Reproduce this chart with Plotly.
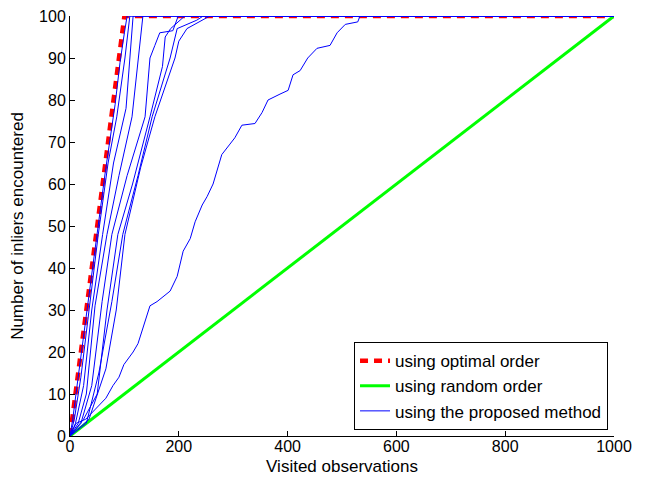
import plotly.graph_objects as go

# ---- data ----
optimal_x = [0, 100, 1000]
optimal_y = [0, 100, 100]

random_x = [0, 1000]
random_y = [0, 100]

proposed = [
    ([0, 5, 15, 30, 48, 65, 83, 92, 100, 105, 1000],
     [0, 4, 14, 29, 47, 63, 79, 89, 96, 100, 100]),
    ([0, 8, 20, 35, 52, 70, 86, 101, 110, 1000],
     [0, 4, 14, 30, 48, 65, 76, 90, 100, 100]),
    ([0, 10, 25, 40, 60, 80, 103, 110, 116, 1000],
     [0, 3, 12, 30, 48, 65, 78, 90, 100, 100]),
    ([0, 15, 30, 46, 68, 90, 114, 125, 134, 1000],
     [0, 3, 10, 31, 48, 62, 76, 90, 100, 100]),
    ([0, 20, 40, 59, 77, 105, 138, 147, 156, 165, 189, 197, 199, 1000],
     [0, 3, 12, 32, 48, 62, 76, 90, 93, 96, 96.5, 99.3, 100, 100]),
    ([0, 25, 50, 68, 88, 115, 147, 170, 175, 185, 211, 1000],
     [0, 4, 10, 30, 48, 60, 76, 88, 95, 97, 100, 100]),
    ([0, 30, 53, 77, 97, 125, 151, 184, 197, 233, 245, 1000],
     [0, 3, 15, 32, 48, 62, 76, 90, 97, 99, 100, 100]),
    ([0, 35, 66, 85, 101, 130, 156, 193, 200, 215, 257, 1000],
     [0, 4, 16, 30, 48, 64, 76, 90, 94, 97, 100, 100]),
    ([0, 11, 29, 48, 66, 79, 90, 99, 116, 125, 132, 147, 160, 184, 197, 208, 221,
      230, 243, 252, 263, 272, 279, 294, 303, 316, 340, 353, 364, 386, 401, 410,
      423, 437, 454, 478, 491, 506, 529, 533, 1000],
     [0, 3, 4, 6.5, 9, 12, 14, 17, 20, 22, 25, 31, 32, 34.5, 38, 44, 47,
      51, 55, 57, 60, 64, 67, 69.5, 71, 74, 74.4, 77, 80, 81.4, 82.3, 86,
      87, 90, 92.3, 93, 96, 98, 98.6, 100, 100]),
]

x_ticks = [0, 200, 400, 600, 800, 1000]
y_ticks = [0, 10, 20, 30, 40, 50, 60, 70, 80, 90, 100]

FONT = "Liberation Sans, Arial, Helvetica, sans-serif"

fig = go.Figure()

fig.add_trace(go.Scatter(
    x=optimal_x, y=optimal_y, mode="lines", name="using optimal order",
    line=dict(color="#ff0000", width=4.5, dash="8px,6px"), cliponaxis=False,
))
fig.add_trace(go.Scatter(
    x=random_x, y=random_y, mode="lines", name="using random order",
    line=dict(color="#00ff00", width=3), cliponaxis=False,
))
for i, (xs, ys) in enumerate(proposed):
    fig.add_trace(go.Scatter(
        x=xs, y=ys, mode="lines", name="using the proposed method",
        line=dict(color="#0000ff", width=1), showlegend=(i == 0),
        cliponaxis=False,
    ))

# the page adds an 8px body margin, so the figure is 8px smaller than the window
fig.update_layout(
    width=638, height=474,
    margin=dict(l=62, r=32, t=8, b=46),
    paper_bgcolor="white", plot_bgcolor="white",
    font=dict(family=FONT, size=16, color="black"),
    showlegend=True,
    legend=dict(
        x=0.989, y=0.014, xanchor="right", yanchor="bottom",
        bordercolor="black", borderwidth=1, bgcolor="white",
        font=dict(size=17), tracegroupgap=0,
    ),
    xaxis=dict(
        range=[0, 1000], tickvals=x_ticks, ticktext=[str(v) for v in x_ticks],
        ticks="inside", ticklen=5, tickcolor="black", showgrid=False,
        zeroline=False, showline=True, linecolor="black", linewidth=1,
        automargin=False, ticklabeloverflow="allow", ticklabelstandoff=-4,
        tickfont=dict(size=16),
        title=dict(text="Visited observations", standoff=5, font=dict(size=17)),
    ),
    yaxis=dict(
        range=[0, 100], tickvals=y_ticks, ticktext=[str(v) for v in y_ticks],
        ticks="inside", ticklen=5, tickcolor="black", showgrid=False,
        zeroline=False, showline=True, linecolor="black", linewidth=1,
        automargin=False, ticklabeloverflow="allow",
        tickfont=dict(size=16),
        title=dict(text="Number of inliers encountered", standoff=13, font=dict(size=17)),
    ),
)

fig.write_html("out.html")
